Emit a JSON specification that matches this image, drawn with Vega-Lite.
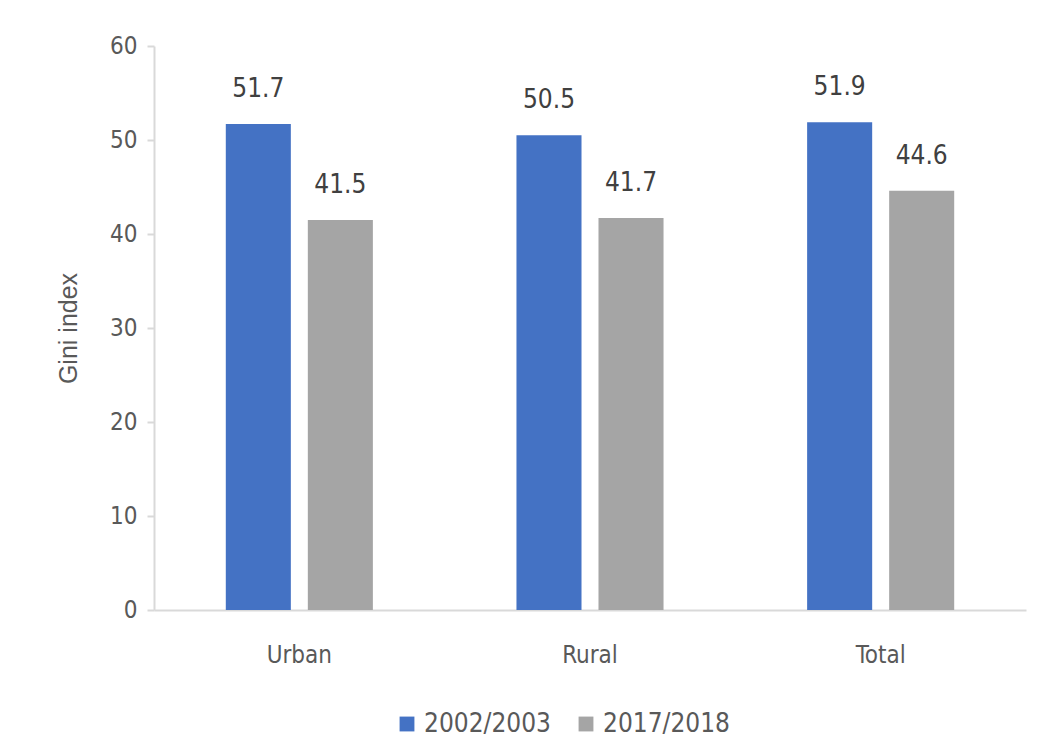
{
  "$schema": "https://vega.github.io/schema/vega-lite/v6.json",
  "autosize": "none",
  "width": 872,
  "height": 564,
  "padding": {"left": 154, "top": 46, "right": 22, "bottom": 129},
  "background": "white",
  "config": {
    "view": {"stroke": null},
    "font": "Liberation Sans Narrow, DejaVu Sans Condensed, sans-serif"
  },
  "data": {
    "values": [
      {"area": "Urban", "period": "2002/2003", "gini": 51.7},
      {"area": "Urban", "period": "2017/2018", "gini": 41.5},
      {"area": "Rural", "period": "2002/2003", "gini": 50.5},
      {"area": "Rural", "period": "2017/2018", "gini": 41.7},
      {"area": "Total", "period": "2002/2003", "gini": 51.9},
      {"area": "Total", "period": "2017/2018", "gini": 44.6}
    ]
  },
  "encoding": {
    "x": {
      "field": "area", "type": "nominal", "sort": ["Urban", "Rural", "Total"],
      "scale": {"paddingInner": 0.494, "paddingOuter": 0.247},
      "axis": {"title": null, "labelAngle": 0, "ticks": false, "domainColor": "#d9d9d9", "domainWidth": 2,
               "labelColor": "#595959", "labelFontSize": 24, "labelPadding": 33}
    },
    "xOffset": {"field": "period", "type": "nominal", "scale": {"paddingInner": 0.207, "paddingOuter": 0}},
    "y": {
      "field": "gini", "type": "quantitative",
      "scale": {"domain": [0, 60]},
      "axis": {"title": "Gini index", "values": [0, 10, 20, 30, 40, 50, 60], "grid": false,
               "domainColor": "#d9d9d9", "domainWidth": 2, "tickColor": "#d9d9d9", "tickWidth": 2, "tickSize": 7,
               "labelColor": "#595959", "labelFontSize": 24, "labelPadding": 10,
               "titleColor": "#595959", "titleFontSize": 25, "titleFontWeight": "normal", "titlePadding": 28,
               "titleFont": "Liberation Sans, sans-serif"}
    }
  },
  "layer": [
    {
      "mark": {"type": "bar"},
      "encoding": {
        "color": {
          "field": "period", "type": "nominal",
          "scale": {"domain": ["2002/2003", "2017/2018"], "range": ["#4472c4", "#a5a5a5"]},
          "legend": {"title": null, "orient": "none", "direction": "horizontal", "legendX": 240, "legendY": 665,
                     "symbolType": "square", "symbolSize": 220, "labelFontSize": 26, "labelColor": "#595959",
                     "columnPadding": 22, "symbolOffset": 0, "labelOffset": 4}
        }
      }
    },
    {
      "mark": {"type": "text", "baseline": "bottom", "dy": -22, "fontSize": 26, "color": "#404040"},
      "encoding": {"text": {"field": "gini", "type": "quantitative", "format": ".1f"}}
    }
  ]
}
